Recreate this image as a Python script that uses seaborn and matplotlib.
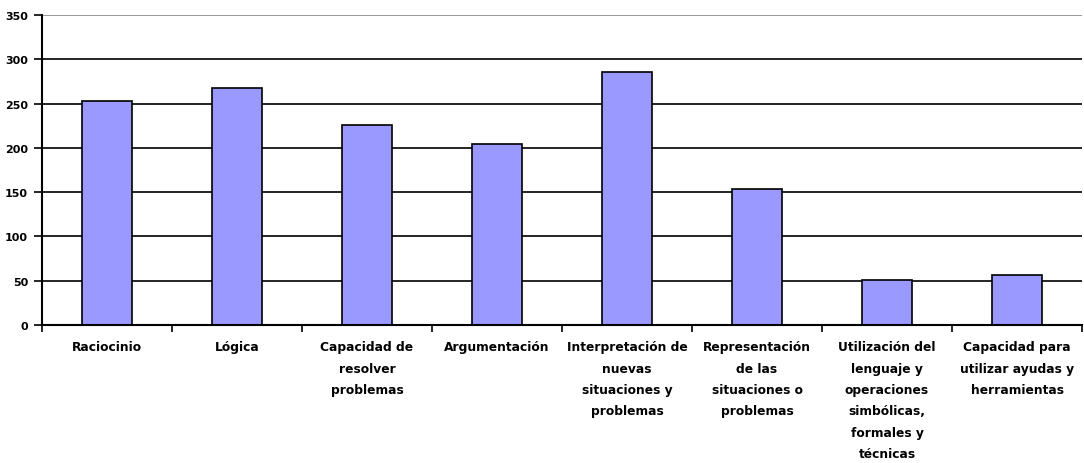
import matplotlib
matplotlib.use("Agg")
import matplotlib.pyplot as plt
import seaborn as sns
import pandas as pd
from matplotlib.ticker import FixedLocator

categories = [
    "Raciocinio",
    "Lógica",
    "Capacidad de\nresolver\nproblemas",
    "Argumentación",
    "Interpretación de\nnuevas\nsituaciones y\nproblemas",
    "Representación\nde las\nsituaciones o\nproblemas",
    "Utilización del\nlenguaje y\noperaciones\nsimbólicas,\nformales y\ntécnicas",
    "Capacidad para\nutilizar ayudas y\nherramientas",
]
values = [253, 268, 226, 204, 286, 153, 51, 56]
yticks = [0, 50, 100, 150, 200, 250, 300, 350]

sns.set_theme(style="white")
plt.rcParams["font.family"] = ["DejaVu Sans"]

df = pd.DataFrame({"cat": categories, "val": values})

fig = plt.figure(figsize=(10.84, 4.64), dpi=100)
ax = fig.add_axes([42 / 1084, 138 / 464, 1040 / 1084, 310 / 464])

sns.barplot(data=df, x="cat", y="val", color="#9999FF", saturation=1,
            edgecolor="black", linewidth=1.2, width=0.38, ax=ax, zorder=3)

ax.set_xlim(-0.5, len(categories) - 0.5)
ax.set_ylim(0, 350)
ax.set_yticks(yticks)
ax.set_yticklabels([str(v) for v in yticks], fontsize=8, fontweight="bold", color="black")
for v in yticks[1:-1]:
    ax.axhline(v, color="black", linewidth=1.2, zorder=1)
ax.axhline(350, color="#888888", linewidth=1.2, zorder=1)

ax.set_xticks(range(len(categories)))
ax.set_xticklabels(categories, fontsize=8.8, fontweight="bold", color="black",
                   linespacing=1.84)
ax.xaxis.set_minor_locator(FixedLocator([i + 0.5 for i in range(-1, len(categories))]))
ax.tick_params(axis="x", which="major", length=0, pad=11)
ax.tick_params(axis="x", which="minor", length=5, width=1.2, color="black", bottom=True)
ax.tick_params(axis="y", which="major", length=6, width=1.2, color="black", left=True, pad=4)

ax.set_xlabel("")
ax.set_ylabel("")
for s in ["top", "right"]:
    ax.spines[s].set_visible(False)
for s in ["left", "bottom"]:
    ax.spines[s].set_color("black")
    ax.spines[s].set_linewidth(1.5)
    ax.spines[s].set_zorder(4)

fig.savefig("out.png", dpi=100, facecolor="white")
